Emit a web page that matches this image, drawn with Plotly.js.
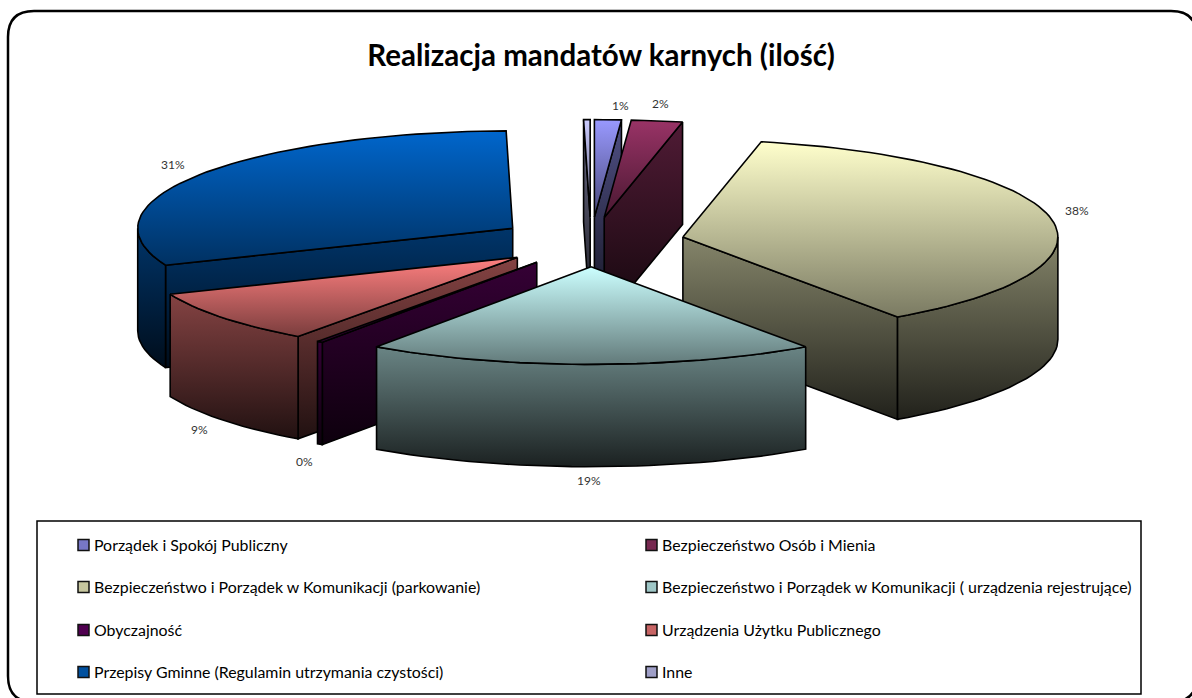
<!DOCTYPE html>
<html><head><meta charset="utf-8">
<script src="https://cdn.plot.ly/plotly-3.0.1.min.js"></script>
<style>html,body{margin:0;padding:0;background:#fff;overflow:hidden}#c{width:1192px;height:698px}</style>
</head><body><div id="c"></div>
<script>
// ---- data ----
const categories = [
  'Porządek i Spokój Publiczny',
  'Bezpieczeństwo Osób i Mienia',
  'Bezpieczeństwo i Porządek w Komunikacji (parkowanie)',
  'Bezpieczeństwo i Porządek w Komunikacji ( urządzenia rejestrujące)',
  'Obyczajność',
  'Urządzenia Użytku Publicznego',
  'Przepisy Gminne (Regulamin utrzymania czystości)',
  'Inne'
];
const values = [1.15, 2.2, 36.95, 19.39, 0.25, 8.89, 30.89, 0.28];
const colors = ['#9999FF','#993366','#FFFFCC','#CCFFFF','#660066','#FF8080','#0066CC','#CCCCFF'];
const percentLabels = ['1%','2%','38%','19%','0%','9%','31%',''];
const titleText = 'Realizacja mandatów karnych (ilość)';

// ---- layout constants (pixels of the page) ----
const W = 1192, H = 698, FONT = 'Lato, Carlito, sans-serif';
const CX = 591, CY = 242, RX = 375, RY = 97.5;
const DEPTH = 1.05, EXPLODE = 0.25, START_DEG = 0;
const labelPos = [[620,105],[660,103],[1077,211],[589,481],[304,461],[199,429],[173,165],null];
const drawOrder = [7,0,1,6,2,5,4,3];
const legendX = [78,646], legendY = [544.5,586.5,629.5,671.5];

// ---- helpers ----
const rad = d => d*Math.PI/180;
function shade(hex,f){
  const n=parseInt(hex.slice(1),16);
  return `rgb(${Math.round((n>>16&255)*f)},${Math.round((n>>8&255)*f)},${Math.round((n&255)*f)})`;
}
function polyTrace(xs,ys,hex,fTop,fBottom,name){
  return {type:'scatter',mode:'lines',x:xs,y:ys,fill:'toself',name:name,showlegend:false,hoverinfo:'skip',
    line:{color:'#000',width:1.6,shape:'linear'},
    fillcolor:shade(hex,(fTop+fBottom)/2),
    fillgradient:{type:'vertical',colorscale:[[0,shade(hex,fBottom)],[1,shade(hex,fTop)]]}};
}
// slice angles, clockwise from the top
const total = values.reduce((a,b)=>a+b,0);
const slices = []; let acc = START_DEG;
values.forEach((v,i)=>{const a=acc,b=acc+v/total*360;acc=b;slices.push({i,a,b});});

const traces = [];
drawOrder.forEach(idx=>{
  const {i,a,b} = slices[idx], hex = colors[i], name = categories[i];
  const m = rad((a+b)/2), ax = EXPLODE*Math.sin(m), ay = EXPLODE*Math.cos(m)*1.02;
  const rim = d => [ax+Math.sin(rad(d)), ay+Math.cos(rad(d))];
  const arc = (from,to) => { const n=Math.max(2,Math.ceil((to-from)/2)), o=[];
    for(let k=0;k<=n;k++) o.push(rim(from+(to-from)*k/n)); return o; };
  // cut walls
  const cutWall = d => { const p=rim(d);
    return polyTrace([ax,p[0],p[0],ax,ax],[ay,p[1],p[1]-DEPTH,ay-DEPTH,ay],hex,.52,.13,name); };
  if (Math.sin(rad(a))<-1e-9) traces.push(cutWall(a));
  if (Math.sin(rad(b))>1e-9) traces.push(cutWall(b));
  // curved outer wall (front half only)
  const f=Math.max(a,90), t=Math.min(b,270);
  if (t>f){
    const up=arc(f,t), dn=up.slice().reverse().map(p=>[p[0],p[1]-DEPTH]), ring=up.concat(dn,[up[0]]);
    traces.push(polyTrace(ring.map(p=>p[0]),ring.map(p=>p[1]),hex,.52,.13,name));
  }
  // top face
  const top=[[ax,ay]].concat(arc(a,b),[[ax,ay]]);
  traces.push(polyTrace(top.map(p=>p[0]),top.map(p=>p[1]),hex,1,.48,name));
});

const px = x => x/W, py = y => 1-y/H;
const annotations = [], shapes = [];
percentLabels.forEach((t,i)=>{ if(!t) return;
  annotations.push({xref:'paper',yref:'paper',x:px(labelPos[i][0]),y:py(labelPos[i][1]),text:t,showarrow:false,
    xanchor:'center',yanchor:'middle',font:{family:FONT,size:12,color:'#333'}});
});
// frame
const L=8,T=11,R=1197,B=702,r=26;
const P=(x,y)=>`${px(x)},${py(y)}`;
shapes.push({type:'path',xref:'paper',yref:'paper',layer:'below',line:{color:'#000',width:2.5},
  path:`M${P(L+r,T)} L${P(R-r,T)} Q${P(R,T)} ${P(R,T+r)} L${P(R,B-r)} Q${P(R,B)} ${P(R-r,B)} L${P(L+r,B)} Q${P(L,B)} ${P(L,B-r)} L${P(L,T+r)} Q${P(L,T)} ${P(L+r,T)} Z`});
// legend box
shapes.push({type:'rect',xref:'paper',yref:'paper',x0:px(37),x1:px(1141),y0:py(521),y1:py(694),line:{color:'#000',width:1.5},fillcolor:'#fff',layer:'below'});
categories.forEach((c,i)=>{
  const X=legendX[i%2], Y=legendY[Math.floor(i/2)];
  shapes.push({type:'rect',xref:'paper',yref:'paper',x0:px(X),x1:px(X+11),y0:py(Y-5),y1:py(Y+6),
    line:{color:'#111',width:1.5},fillcolor:shade(colors[i],.78)});
  annotations.push({xref:'paper',yref:'paper',x:px(X+14),y:py(Y),text:c,showarrow:false,xanchor:'left',yanchor:'middle',
    font:{family:FONT,size:15.9,color:'#000'}});
});

Plotly.newPlot('c',traces,{
  width:W,height:H,margin:{l:0,r:0,t:0,b:0},paper_bgcolor:'#fff',plot_bgcolor:'rgba(0,0,0,0)',showlegend:false,
  title:{text:'<b>'+titleText+'</b>',x:601/W,xanchor:'center',y:py(56),yanchor:'middle',xref:'paper',yref:'paper',
    font:{family:FONT,size:29.5,color:'#000'}},
  xaxis:{visible:false,fixedrange:true,range:[-CX/RX,(W-CX)/RX]},
  yaxis:{visible:false,fixedrange:true,range:[-(H-CY)/RY,CY/RY]},
  shapes,annotations
},{displayModeBar:false,staticPlot:true});
</script></body></html>
